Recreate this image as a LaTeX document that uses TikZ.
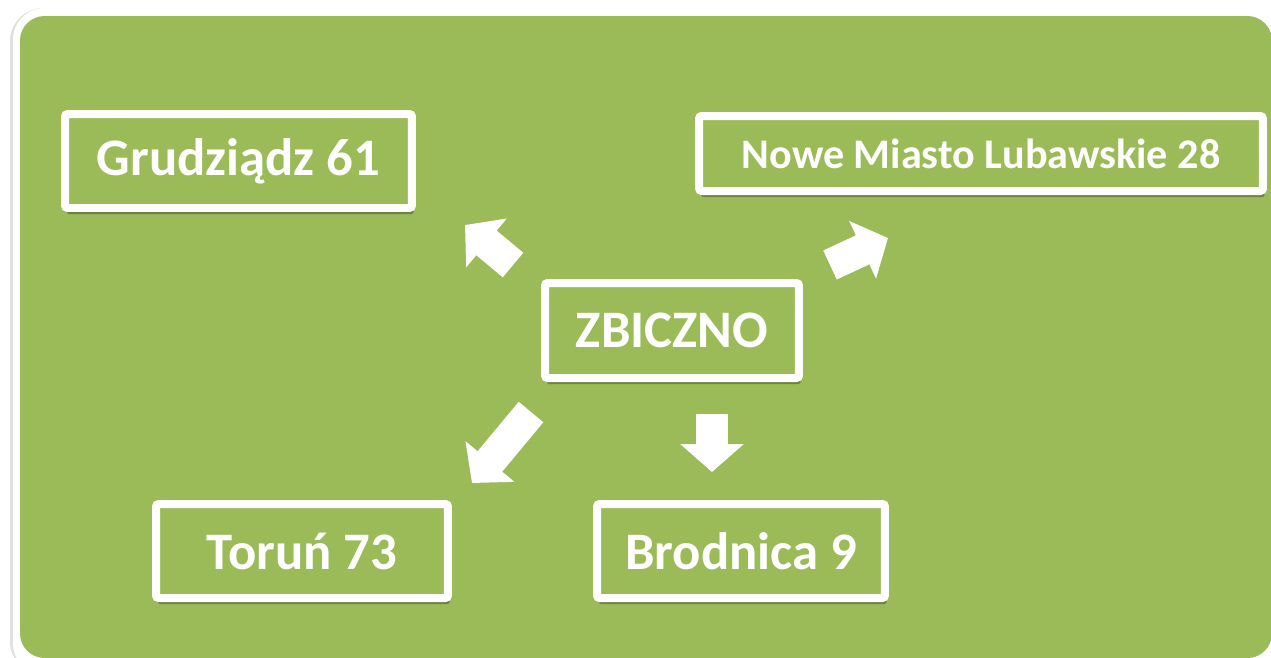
\documentclass[tikz,border=0pt]{standalone}
\usepackage{fontspec}
\setmainfont{Carlito}
\usetikzlibrary{arrows.meta,shadows}
\definecolor{leafgreen}{HTML}{9BBB59}
\tikzset{
  city/.style={draw=white, line width=0.16cm, fill=leafgreen, rounded corners=1.5pt,
    text=white, inner sep=0pt, font=\bfseries\fontsize{30}{34}\selectfont,
    drop shadow={shadow xshift=1pt, shadow yshift=-3.5pt, opacity=0.3, fill=black}},
  blockarrow/.style={draw=white, line width=0.64cm, -{Triangle[width=1.24cm, length=0.56cm]}}
}
\begin{document}
\begin{tikzpicture}[x=0.02cm, y=-0.02cm]
\clip (0,0) rectangle (1271,657);
% frame
\fill[black!12, rounded corners=19pt] (10,8) rectangle (1290,675);
\fill[white, rounded corners=18pt] (13,8) rectangle (1290,675);
\fill[leafgreen, rounded corners=14pt] (20,16) rectangle (1272,658);
% towns
\node[city, minimum width=5.08cm, minimum height=1.9cm] (zbiczno) at (672,330.5) {ZBICZNO};
\node[city, minimum width=6.94cm, minimum height=1.88cm] (grudziadz) at (238.5,161) {Grudziądz 61};
\node[city, minimum width=11.28cm, minimum height=1.5cm, font=\bfseries\fontsize{24}{28}\selectfont] (nowemiasto) at (981,153.5) {Nowe Miasto Lubawskie 28};
\node[city, minimum width=5.84cm, minimum height=1.88cm] (torun) at (302,551) {Toruń 73};
\node[city, minimum width=5.76cm, minimum height=1.88cm] (brodnica) at (741,551) {Brodnica 9};
% arrows
\coordinate (gtail) at (513,265);
\coordinate (ghead) at (465,225);
\coordinate (ntail) at (830,265);
\coordinate (nhead) at (888,238);
\coordinate (ttail) at (531,412);
\coordinate (thead) at (472,483);
\coordinate (btail) at (712,414);
\coordinate (bhead) at (712,472);
\draw[blockarrow] (gtail) -- (ghead);
\draw[blockarrow] (ntail) -- (nhead);
\draw[blockarrow] (ttail) -- (thead);
\draw[blockarrow] (btail) -- (bhead);
\end{tikzpicture}
\end{document}
